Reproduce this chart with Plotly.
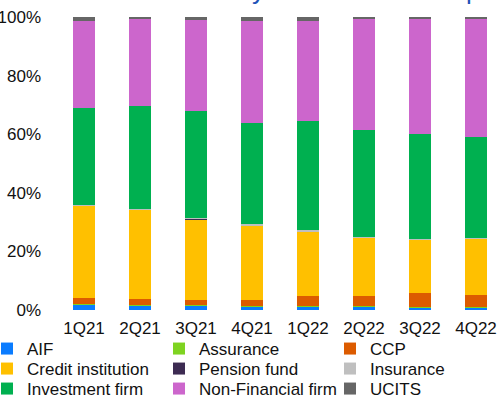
import plotly.graph_objects as go

quarters = ["1Q21", "2Q21", "3Q21", "4Q21", "1Q22", "2Q22", "3Q22", "4Q22"]

aif = [1.8, 1.55, 1.45, 1.1, 1.15, 1.2, 1.0, 0.9]
assurance = [0.35, 0.15, 0.15, 0.1, 0.2, 0.1, 0.1, 0.1]
ccp = [2.05, 2.05, 1.9, 2.3, 3.5, 3.4, 4.8, 4.2]
credit = [31.3, 30.4, 27.35, 25.4, 22.0, 19.9, 18.1, 19.3]
pension = [0.05, 0.05, 0.35, 0.1, 0.05, 0.05, 0.05, 0.05]
insurance = [0.2, 0.2, 0.2, 0.4, 0.4, 0.3, 0.3, 0.1]
investment = [33.35, 35.35, 36.5, 34.5, 37.3, 36.6, 35.8, 34.5]
non_financial = [29.6, 29.4, 31.2, 34.7, 34.0, 37.6, 39.3, 40.4]
ucits = [1.3, 0.9, 0.9, 1.4, 1.4, 0.9, 0.6, 0.5]

y_ticks = [0, 20, 40, 60, 80, 100]
y_tick_labels = ["0%", "20%", "40%", "60%", "80%", "100%"]

series = [
    ("AIF", aif, "#0A7CFF"),
    ("Assurance", assurance, "#7ED321"),
    ("CCP", ccp, "#DC5B00"),
    ("Credit institution", credit, "#FFC000"),
    ("Pension fund", pension, "#3D2B52"),
    ("Insurance", insurance, "#BFBFBF"),
    ("Investment firm", investment, "#00B050"),
    ("Non-Financial firm", non_financial, "#CC66CC"),
    ("UCITS", ucits, "#666666"),
]

FONT = "Liberation Sans, Arial, sans-serif"
TXT = "#111111"
L, T, PW, PH = 56, 17, 448, 293  # plot area in px

# legend grid: text left x (px) per column, text centre y (px) per row
col_text_x = [27, 199, 370]
row_y = [349, 369, 389]

fig = go.Figure()
legends = {}
for i, (name, vals, color) in enumerate(series):
    lid = "legend" if i == 0 else f"legend{i + 1}"
    fig.add_trace(go.Bar(
        x=quarters, y=vals, name=name, marker_color=color,
        marker_line_width=0, legend=lid,
    ))
    r, c = divmod(i, 3)
    legends[lid] = dict(
        orientation="v",
        x=(col_text_x[c] - 40 - L) / PW, xanchor="left",
        y=(T + PH - row_y[r]) / PH, yanchor="middle",
        bgcolor="rgba(0,0,0,0)", borderwidth=0,
        font=dict(family=FONT, size=17, color=TXT),
    )

fig.update_layout(
    width=504, height=396,
    margin=dict(l=L, r=504 - L - PW, t=T, b=396 - T - PH, autoexpand=False),
    paper_bgcolor="white", plot_bgcolor="white",
    barmode="stack", bargap=0.6,
    font=dict(family=FONT, size=17, color=TXT),
    showlegend=True,
    xaxis=dict(showgrid=False, showline=False, ticks="", ticklabelstandoff=6,
               tickfont=dict(size=17, color=TXT)),
    yaxis=dict(range=[0, 100], tickvals=y_ticks, ticktext=y_tick_labels,
               showgrid=False, showline=False, zeroline=False, ticks="",
               ticklabelstandoff=14, tickfont=dict(size=17, color=TXT)),
    annotations=[dict(
        text="Notional amount by sector of counterparty",
        xref="paper", yref="paper", x=-0.038, y=1.0, xanchor="left", yanchor="bottom",
        yshift=10, showarrow=False,
        font=dict(family=FONT, size=26, color="#2353B8"),
    )],
)
fig.update_layout(**legends)

fig.write_html("out.html", config={"displayModeBar": False},
               post_script="document.body.style.margin='0px';")
